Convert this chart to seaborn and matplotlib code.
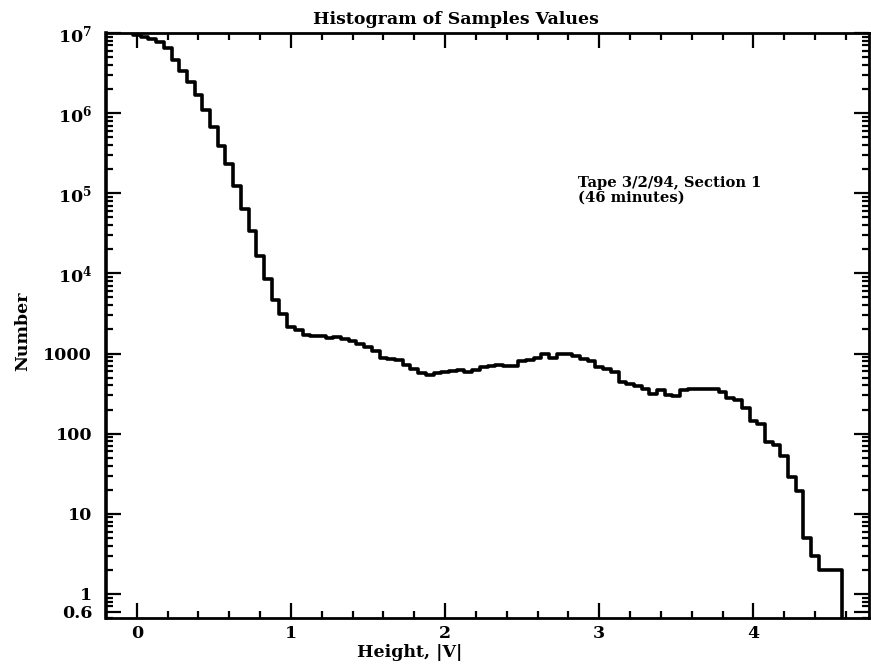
import matplotlib
matplotlib.use('Agg')
import matplotlib.pyplot as plt
from matplotlib.ticker import LogLocator, MultipleLocator, NullFormatter
import seaborn as sns
import numpy as np
import pandas as pd

# histogram counts per 0.05 |V| bin, bin centres 0.00, 0.05, ...
# (last entry = first empty bin, so the outline drops to the axis)
bin_width = 0.05
counts = [
    9.4e6, 8.9e6, 8.4e6, 7.7e6, 6.5e6, 4.6e6, 3.4e6, 2.44e6, 1.66e6, 1.09e6,   # 0.00-0.45
    6.7e5, 3.9e5, 2.3e5, 1.23e5, 6.4e4, 3.4e4, 1.67e4, 8400, 4600, 3100,       # 0.50-0.95
    2140, 1960, 1720, 1670, 1650, 1550, 1600, 1530, 1430, 1310,               # 1.00-1.45
    1190, 1060, 877, 851, 828, 716, 638, 565, 537, 569,                       # 1.50-1.95
    586, 612, 631, 594, 631, 676, 697, 716, 707, 703,                         # 2.00-2.45
    804, 828, 889, 1000, 877, 984, 984, 942, 863, 804,                        # 2.50-2.95
    687, 638, 586, 440, 421, 392, 359, 311, 349, 302,                         # 3.00-3.45
    294, 354, 359, 359, 359, 359, 334, 282, 262, 211,                         # 3.50-3.95
    145, 133, 78, 72, 52, 29, 19, 5, 3, 2,                                    # 4.00-4.45
    2, 2, 0,                                                                  # 4.50-4.60
]

xtick_vals = [0, 1, 2, 3, 4]
ytick_vals = [0.6, 1, 10, 100, 1000, 1e4, 1e5, 1e6, 1e7]
ytick_labels = ['0.6', '1', '10', '100', '1000',
                r'$\mathbf{10^{4}}$', r'$\mathbf{10^{5}}$',
                r'$\mathbf{10^{6}}$', r'$\mathbf{10^{7}}$']

TITLE = 'Histogram of Samples Values'
NOTE = 'Tape 3/2/94, Section 1\n(46 minutes)'

# ============================================================
# STYLE
# ============================================================
sns.set_style('ticks')
plt.rcParams.update({
    'font.family': ['DejaVu Serif'],
    'font.weight': 'bold',
    'axes.labelweight': 'bold',
    'mathtext.fontset': 'dejavuserif',
    'font.size': 12.5,
    'axes.linewidth': 2.0,
    'text.color': 'black',
    'axes.labelcolor': 'black',
    'axes.edgecolor': 'black',
    'xtick.color': 'black',
    'ytick.color': 'black',
})

fig = plt.figure(figsize=(8.71, 6.68), dpi=100)
ax = fig.add_axes([106 / 871, 50 / 668, 763 / 871, 585 / 668])

centers = np.arange(len(counts)) * bin_width
edges = np.append(centers - bin_width / 2, centers[-1] + bin_width / 2)
df = pd.DataFrame({'height': centers, 'number': counts})

sns.histplot(data=df, x='height', weights='number', bins=edges.tolist(),
             element='step', fill=False, color='black', linewidth=2.6, ax=ax)

ax.set_yscale('log')
ax.set_xlim(-0.2, 4.75)
ax.set_ylim(0.5, 1e7)

ax.set_xticks(xtick_vals, [str(v) for v in xtick_vals])
ax.xaxis.set_minor_locator(MultipleLocator(0.2))
ax.set_yticks(ytick_vals, ytick_labels)
ax.yaxis.set_minor_locator(LogLocator(base=10, subs=np.arange(2, 10)))
ax.yaxis.set_minor_formatter(NullFormatter())

ax.tick_params(which='both', direction='in', top=True, right=True,
               width=1.6, labelsize=12.5)
ax.tick_params(which='major', length=11)
ax.tick_params(which='minor', length=5)
ax.tick_params(axis='y', which='major', pad=10)
ax.tick_params(axis='x', which='major', pad=5)
ax.spines['left'].set_linewidth(2.6)

ax.set_xlabel('Height, |V|', fontsize=12.5)
ax.set_ylabel('Number', fontsize=12.5)
ax.xaxis.set_label_coords((410 - 106) / 763, -0.045)
ax.yaxis.set_label_coords(-0.098, 0.49)

fig.text(456 / 871, 1 - 20 / 668, TITLE, ha='center', va='center',
         fontsize=12.5, fontweight='bold')
fig.text(578 / 871, 1 - 176 / 668, NOTE, ha='left', va='top',
         fontsize=10.6, fontweight='bold', linespacing=1.05)

fig.savefig('out.png', dpi=100, facecolor='white')
